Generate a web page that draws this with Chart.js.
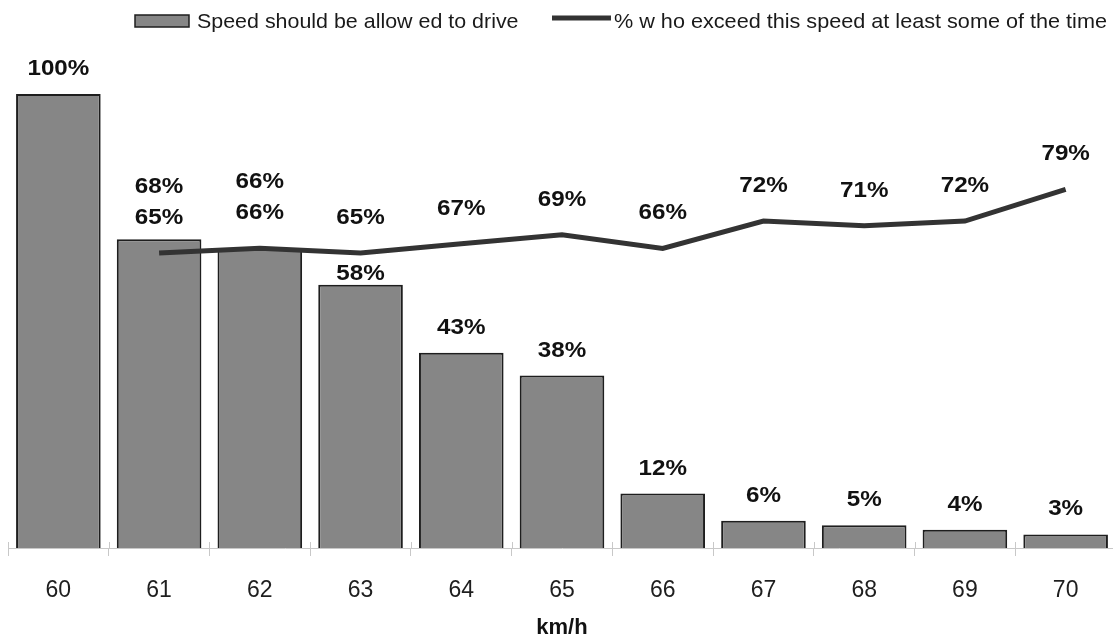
<!DOCTYPE html>
<html>
<head>
<meta charset="utf-8">
<title>Speed should be allowed to drive</title>
<script src="https://cdn.jsdelivr.net/npm/chart.js@4/dist/chart.umd.min.js"></script>
<style>
  html, body { margin: 0; padding: 0; background: #ffffff; overflow: hidden; }
  #wrap { width: 1117px; height: 639px; }
</style>
</head>
<body>
<div id="wrap"><canvas id="chart" width="1117" height="639"></canvas></div>
<script>
// Speeds on the x axis (km/h)
const speeds = ['60', '61', '62', '63', '64', '65', '66', '67', '68', '69', '70'];
// Share saying each speed should be allowed (%)
const allowedPct = [100, 68, 66, 58, 43, 38, 12, 6, 5, 4, 3];
// Share who exceed each speed at least some of the time (%)
const exceedPct = [null, 65, 66, 65, 67, 69, 66, 72, 71, 72, 79];

const barLabel = 'Speed should be allow ed to drive';
const lineLabel = '% w ho exceed this speed at least some of the time';

const FONT = '"Liberation Sans", Arial, Helvetica, sans-serif';
const BAR_FILL = '#868686';
const BAR_EDGE = '#1e1e1e';
const LINE_COLOR = '#333333';

// Text drawn slightly widened, anchored at (x, y)
function wideText(ctx, text, x, y, sx) {
  ctx.save();
  ctx.translate(x, y);
  ctx.scale(sx, 1);
  ctx.fillText(text, 0, 0);
  ctx.restore();
}

// Legend drawn across the top of the canvas
const topLegend = {
  id: 'topLegend',
  afterDraw(chart) {
    const ctx = chart.ctx;
    ctx.save();
    ctx.fillStyle = BAR_FILL;
    ctx.fillRect(135, 15, 54, 12);
    ctx.strokeStyle = BAR_EDGE;
    ctx.lineWidth = 1.5;
    ctx.strokeRect(135, 15, 54, 12);
    ctx.font = '21px ' + FONT;
    ctx.fillStyle = '#1a1a1a';
    ctx.textAlign = 'left';
    ctx.textBaseline = 'alphabetic';
    wideText(ctx, chart.data.datasets[0].label, 197, 28, 1.02);
    ctx.strokeStyle = LINE_COLOR;
    ctx.lineWidth = 5;
    ctx.beginPath();
    ctx.moveTo(552, 18);
    ctx.lineTo(611, 18);
    ctx.stroke();
    wideText(ctx, chart.data.datasets[1].label, 614, 28, 1.03);
    ctx.restore();
  }
};

// Short tick marks rising above the baseline at each category boundary
const boundaryTicks = {
  id: 'boundaryTicks',
  afterDraw(chart) {
    const ctx = chart.ctx;
    const x = chart.scales.x;
    const base = chart.chartArea.bottom;
    const half = (x.getPixelForValue(1) - x.getPixelForValue(0)) / 2;
    ctx.save();
    ctx.strokeStyle = '#c8c8c8';
    ctx.lineWidth = 1;
    ctx.beginPath();
    for (let i = 0; i <= speeds.length; i++) {
      const px = Math.round(x.getPixelForValue(0) - half + i * half * 2) + 0.5;
      ctx.moveTo(px, base - 6);
      ctx.lineTo(px, base);
    }
    ctx.stroke();
    ctx.restore();
  }
};

// Percentage labels above bars and line points, nudged apart where they would clash
const valueLabels = {
  id: 'valueLabels',
  afterDatasetsDraw(chart) {
    const ctx = chart.ctx;
    const barMeta = chart.getDatasetMeta(0);
    const lineMeta = chart.getDatasetMeta(1);
    ctx.save();
    ctx.font = 'bold 22px ' + FONT;
    ctx.fillStyle = '#111111';
    ctx.textAlign = 'center';
    ctx.textBaseline = 'middle';
    speeds.forEach((s, i) => {
      const bar = barMeta.data[i];
      const pt = lineMeta.data[i];
      const hasLine = exceedPct[i] !== null;
      let lineY = null;
      if (hasLine) {
        lineY = pt.y - 35;
        wideText(ctx, exceedPct[i] + '%', pt.x, lineY, 1.1);
      }
      let y = bar.y - 25;
      if (hasLine && Math.abs(y - lineY) < 22) {
        y = lineY - 31;
      } else if (hasLine && Math.abs(y - pt.y) < 14) {
        y = bar.y - 11;
      }
      wideText(ctx, allowedPct[i] + '%', bar.x, y, 1.1);
    });
    ctx.restore();
  }
};

new Chart(document.getElementById('chart'), {
  data: {
    labels: speeds,
    datasets: [
      {
        type: 'bar',
        label: barLabel,
        data: allowedPct,
        backgroundColor: BAR_FILL,
        borderColor: BAR_EDGE,
        borderWidth: 2,
        barPercentage: 0.84,
        categoryPercentage: 1.0,
        order: 2
      },
      {
        type: 'line',
        label: lineLabel,
        data: exceedPct,
        borderColor: LINE_COLOR,
        borderWidth: 5,
        pointRadius: 0,
        tension: 0,
        fill: false,
        order: 1
      }
    ]
  },
  options: {
    responsive: false,
    animation: false,
    layout: { padding: { top: 94, left: 8, right: 1, bottom: 0 } },
    plugins: {
      legend: { display: false },
      tooltip: { enabled: false }
    },
    scales: {
      x: {
        offset: true,
        grid: {
          offset: true,
          drawOnChartArea: false,
          drawTicks: true,
          tickLength: 8,
          color: '#c8c8c8'
        },
        border: { color: '#c8c8c8', width: 1 },
        ticks: {
          padding: 21,
          color: '#1e1e1e',
          font: { family: FONT, size: 23 }
        },
        title: {
          display: true,
          text: 'km/h',
          color: '#111111',
          font: { family: FONT, size: 22, weight: 'bold', lineHeight: 1 },
          padding: 0
        },
        afterFit(scale) { scale.height = 91; }
      },
      y: {
        display: false,
        min: 0,
        max: 100
      }
    }
  },
  plugins: [topLegend, boundaryTicks, valueLabels]
});
</script>
</body>
</html>
